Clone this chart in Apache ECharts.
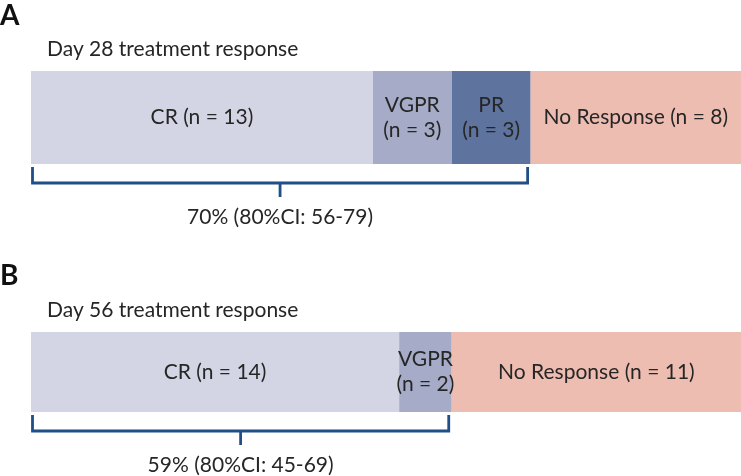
<!DOCTYPE html>
<html><head><meta charset="utf-8">
<script src="https://cdn.jsdelivr.net/npm/echarts@6/dist/echarts.min.js"></script>
<style>html,body{margin:0;padding:0;background:#fff}#c{width:741px;height:476px}</style>
</head><body><div id="c"></div>
<script>
const panelLetters = ['A', 'B'];
const panelTitles = ['Day 28 treatment response', 'Day 56 treatment response'];
const categoriesA = ['CR', 'VGPR', 'PR', 'No Response'];
const valuesA = [13, 3, 3, 8];
const categoriesB = ['CR', 'VGPR', 'No Response'];
const valuesB = [14, 2, 11];
const respondersA = 19;
const respondersB = 16;
const ciLabels = ['70% (80%CI: 56-79)', '59% (80%CI: 45-69)'];

const colorMap = {'CR': '#d3d5e4', 'VGPR': '#a6acc8', 'PR': '#5e739e', 'No Response': '#edbdb1'};
const font = 'Lato, "Open Sans", sans-serif';
const textColor = '#262626';
const bracketColor = '#1f4f86';

const chart = echarts.init(document.getElementById('c'));

function labelText(cat, v) {
  return v <= 3 ? cat + '\n(n = ' + v + ')' : cat + ' (n = ' + v + ')';
}

function barSeries(cats, vals, idx) {
  return cats.map((cat, i) => ({
    type: 'bar', name: cat + idx, stack: 'p' + idx,
    xAxisIndex: idx, yAxisIndex: idx,
    barWidth: '100%',
    data: [vals[i]],
    itemStyle: {color: colorMap[cat]},
    label: {show: true, position: 'inside', formatter: () => labelText(cat, vals[i]),
      color: textColor, fontFamily: font, fontSize: 21, lineHeight: 25},
    silent: true
  }));
}

function bracketSeries(resp, idx, label) {
  return {
    type: 'custom', xAxisIndex: idx, yAxisIndex: idx, clip: false, silent: true,
    data: [[resp, 0]],
    renderItem: function (params, api) {
      const p0 = api.coord([0, 0]);
      const p1 = api.coord([api.value(0), 0]);
      const bh = api.size([0, 1])[1];
      const bottom = p0[1] + bh / 2;
      const x0 = p0[0] + 1.5, x1 = p1[0] - 3;
      const yTop = bottom + 3, yH = bottom + 19, yTick = bottom + 33;
      const mid = (x0 + x1) / 2;
      const st = {stroke: bracketColor, lineWidth: 2.8, fill: null};
      return {type: 'group', children: [
        {type: 'polyline', shape: {points: [[x0, yTop], [x0, yH], [x1, yH], [x1, yTop]]}, style: st},
        {type: 'line', shape: {x1: mid, y1: yH, x2: mid, y2: yTick}, style: st},
        {type: 'text', x: mid, y: yTick + 20, style: {text: label, textAlign: 'center', textVerticalAlign: 'middle',
          fill: textColor, font: '21px ' + font}}
      ]};
    }
  };
}

const option = {
  animation: false,
  title: [
    {text: panelLetters[0], left: 0, top: 2, padding: 0, textStyle: {fontSize: 28, fontWeight: 'bold', color: '#111', fontFamily: font}},
    {text: panelTitles[0], left: 47, top: 39, padding: 0, textStyle: {fontSize: 21, fontWeight: 'normal', color: textColor, fontFamily: font}},
    {text: panelLetters[1], left: 0, top: 262, padding: 0, textStyle: {fontSize: 28, fontWeight: 'bold', color: '#111', fontFamily: font}},
    {text: panelTitles[1], left: 47, top: 300, padding: 0, textStyle: {fontSize: 21, fontWeight: 'normal', color: textColor, fontFamily: font}}
  ],
  grid: [
    {left: 31, right: 0, top: 71, height: 93},
    {left: 31, right: 0, top: 332, height: 80}
  ],
  xAxis: [
    {type: 'value', gridIndex: 0, min: 0, max: valuesA.reduce((a, b) => a + b, 0), show: false},
    {type: 'value', gridIndex: 1, min: 0, max: valuesB.reduce((a, b) => a + b, 0), show: false}
  ],
  yAxis: [
    {type: 'category', gridIndex: 0, data: ['A'], show: false},
    {type: 'category', gridIndex: 1, data: ['B'], show: false}
  ],
  series: [
    ...barSeries(categoriesA, valuesA, 0),
    ...barSeries(categoriesB, valuesB, 1),
    bracketSeries(respondersA, 0, ciLabels[0]),
    bracketSeries(respondersB, 1, ciLabels[1])
  ]
};
chart.setOption(option);
</script>
</body></html>
